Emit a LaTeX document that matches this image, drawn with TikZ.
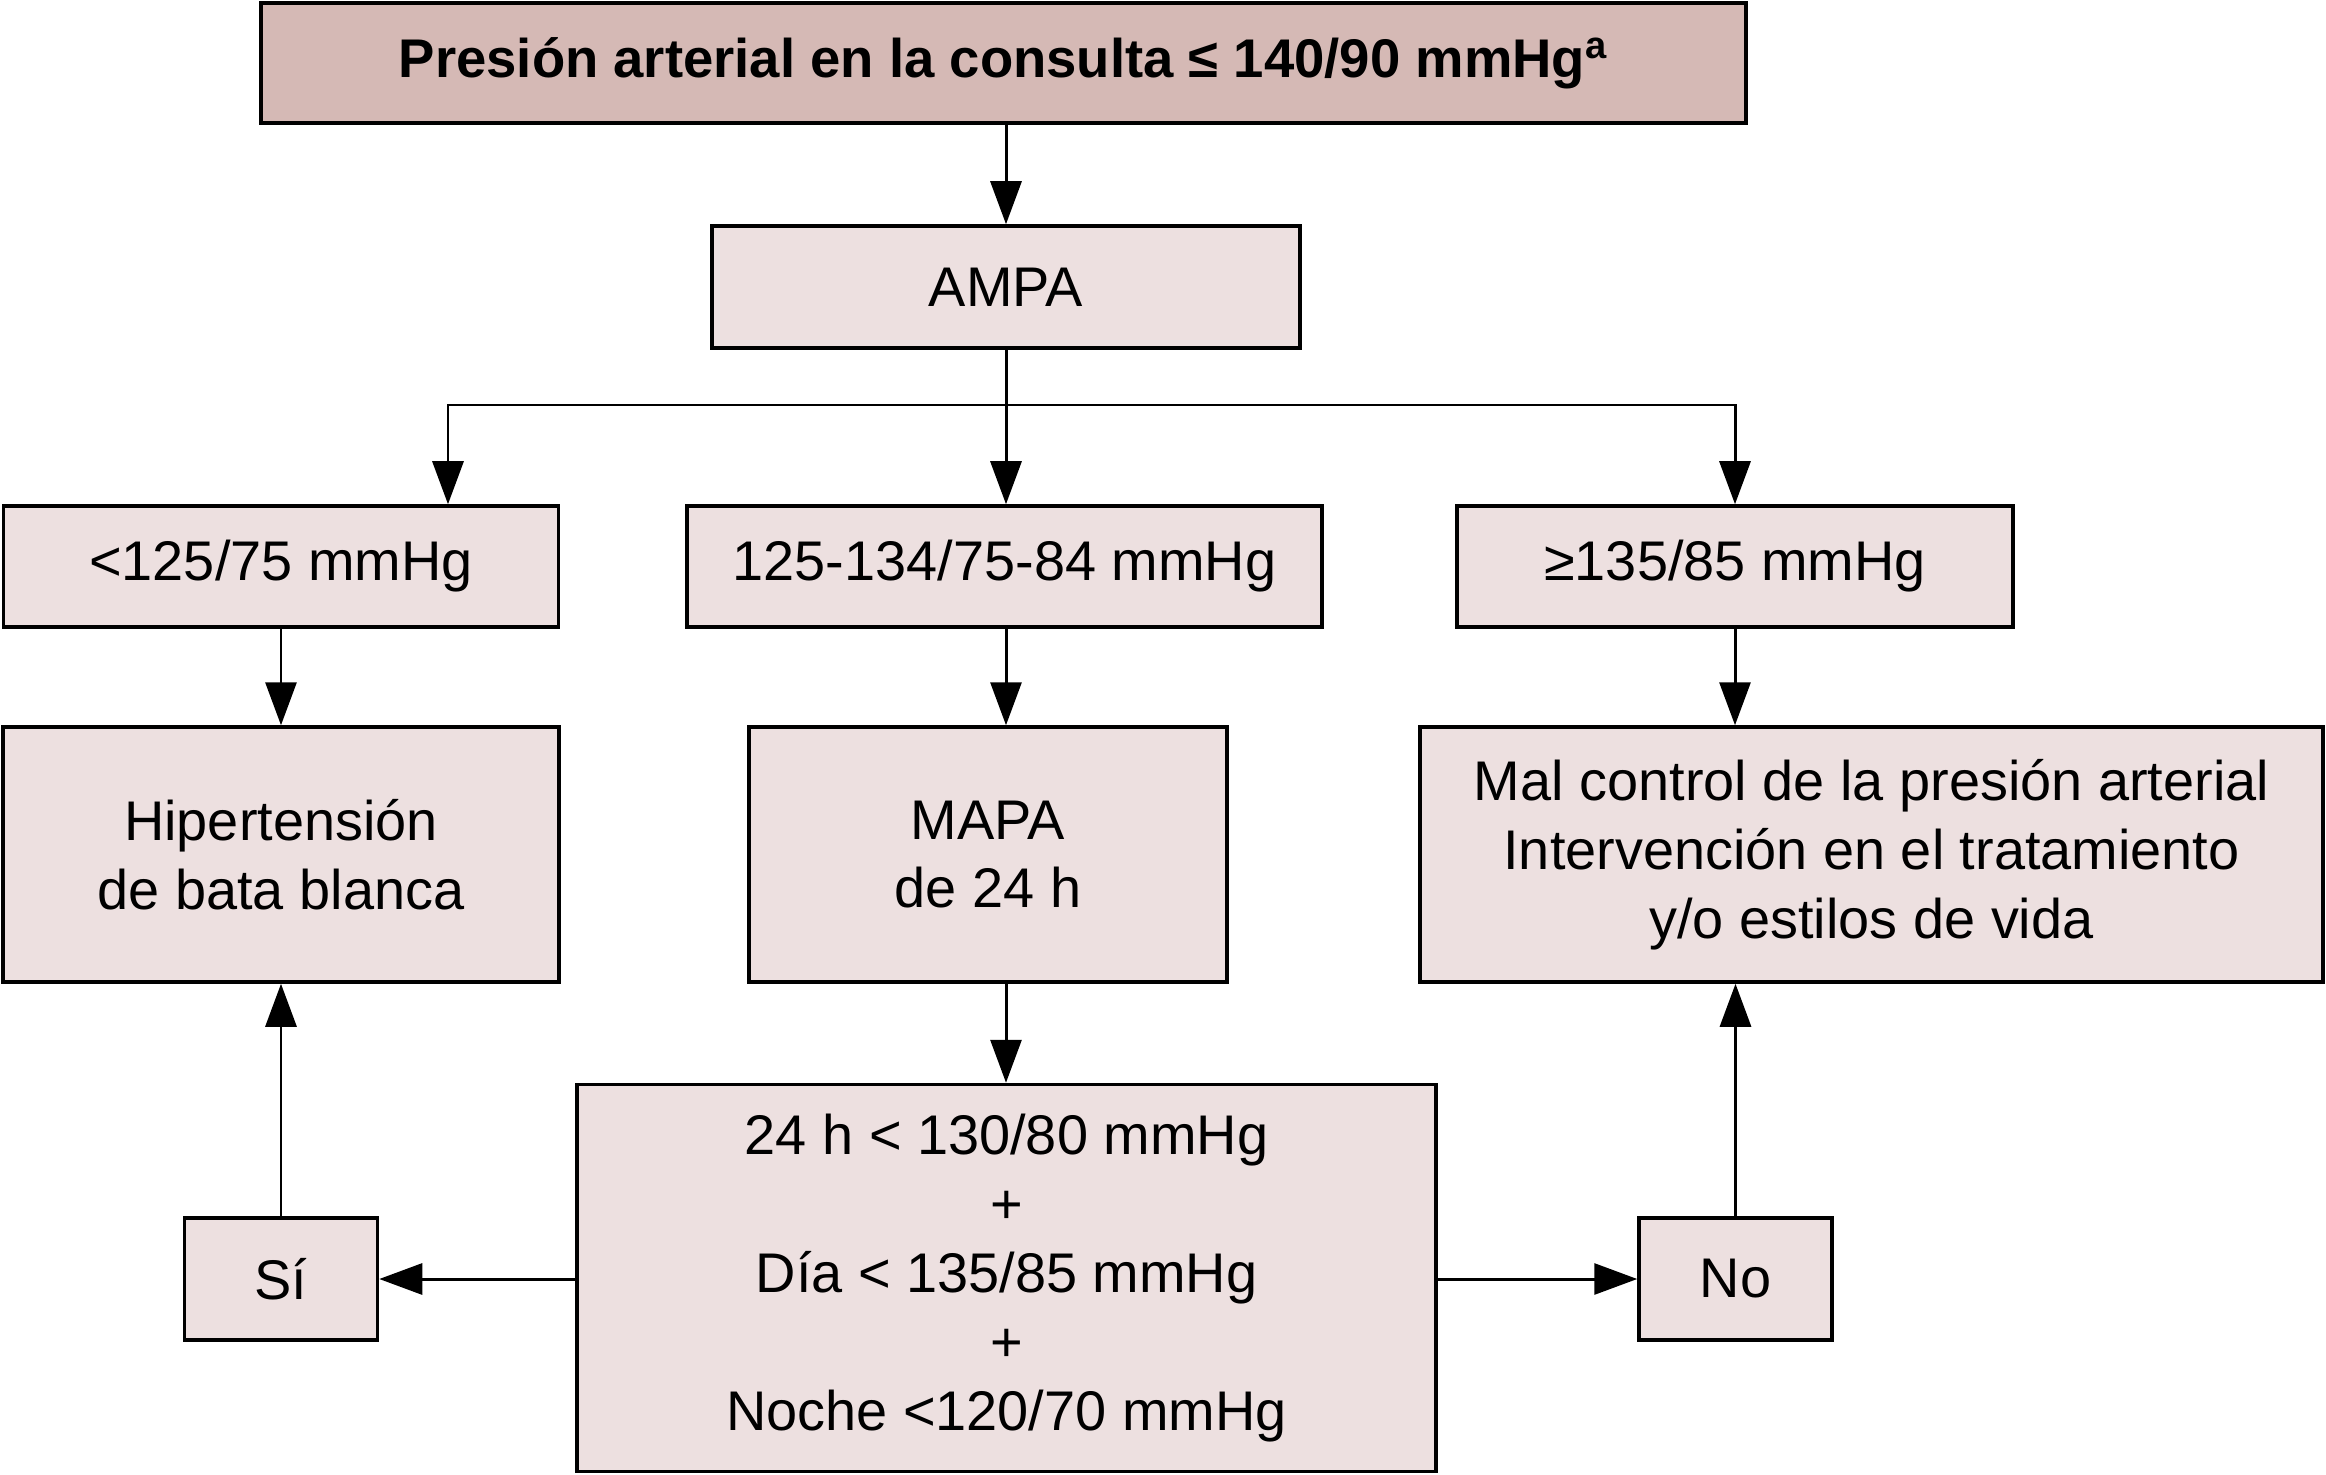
\documentclass[tikz,border=0pt]{standalone}
\usepackage{fontspec}
\setmainfont{Liberation Sans}
\usepackage{xcolor}
\usepackage{tikz}
\usetikzlibrary{arrows.meta,positioning}

\definecolor{toppink}{RGB}{213,185,181}
\definecolor{boxpink}{RGB}{237,224,224}

\begin{document}
\begin{tikzpicture}[every node/.style={font=\fontsize{15.9}{19.6}\selectfont},
    box/.style={draw, rectangle, line width=1pt, fill=boxpink, align=center, inner sep=0pt},
    arr/.style={line width=0.85pt, -{Triangle[length=0.43cm, width=0.31cm]}},
    ln/.style={line width=0.85pt}]
    \useasboundingbox (0,0) rectangle (23.26,-14.75);

    % Consulta
    \node[box, fill=toppink, minimum width=14.85cm, minimum height=1.2cm, font=\fontsize{15.5}{19}\selectfont] (top) at (10.035,-0.63) {\bfseries Presión arterial en la consulta ≤ 140/90 mmHg\textsuperscript{a}};

    % AMPA
    \node[box, minimum width=5.88cm, minimum height=1.22cm] (ampa) at (10.06,-2.87) {AMPA};

    % Resultados AMPA
    \node[box, minimum width=5.55cm, minimum height=1.21cm] (low) at (2.81,-5.665) {<125/75 mmHg};
    \node[box, minimum width=6.35cm, minimum height=1.21cm] (mid) at (10.045,-5.665) {125-134/75-84 mmHg};
    \node[box, minimum width=5.56cm, minimum height=1.21cm] (high) at (17.35,-5.665) {≥135/85 mmHg};

    % Segunda fila
    \node[box, minimum width=5.56cm, minimum height=2.55cm] (bata) at (2.81,-8.545) {Hipertensión\\de bata blanca};
    \node[box, minimum width=4.78cm, minimum height=2.55cm] (mapa) at (9.88,-8.545) {MAPA\\de 24 h};
    \node[box, minimum width=9.03cm, minimum height=2.55cm] (mal) at (18.715,-8.545) {Mal control de la presión arterial\\Intervención en el tratamiento\\y/o estilos de vida};

    % MAPA
    \node[box, minimum width=8.59cm, minimum height=3.87cm] (res) at (10.065,-12.78) {24 h < 130/80 mmHg\\+\\Día < 135/85 mmHg\\+\\Noche <120/70 mmHg};

    % Si / No
    \node[box, minimum width=1.93cm, minimum height=1.22cm] (si) at (2.81,-12.79) {Sí};
    \node[box, minimum width=1.93cm, minimum height=1.22cm] (no) at (17.355,-12.79) {No};

    % Flechas
    \coordinate (split) at (10.06,-4.05);
    \draw[arr] (top.south -| ampa.north) -- (ampa.north);
    \draw[ln] (ampa.south -| split) -- (split);
    \draw[arr] (split) -| ([xshift=1.67cm]low.north);
    \draw[arr] (split) -- (split |- mid.north);
    \draw[arr] (split) -| (high.north);
    \draw[arr] (low.south) -- (bata.north);
    \draw[arr] (mid.south -| split) -- (split |- mapa.north);
    \draw[arr] (high.south) -- (high.south |- mal.north);
    \draw[arr] (mapa.south -| split) -- (split |- res.north);
    \draw[arr] (res.west |- si.east) -- (si.east);
    \draw[arr] (res.east |- no.west) -- (no.west);
    \draw[arr] (si.north) -- (si.north |- bata.south);
    \draw[arr] (no.north) -- (no.north |- mal.south);
\end{tikzpicture}
\end{document}
